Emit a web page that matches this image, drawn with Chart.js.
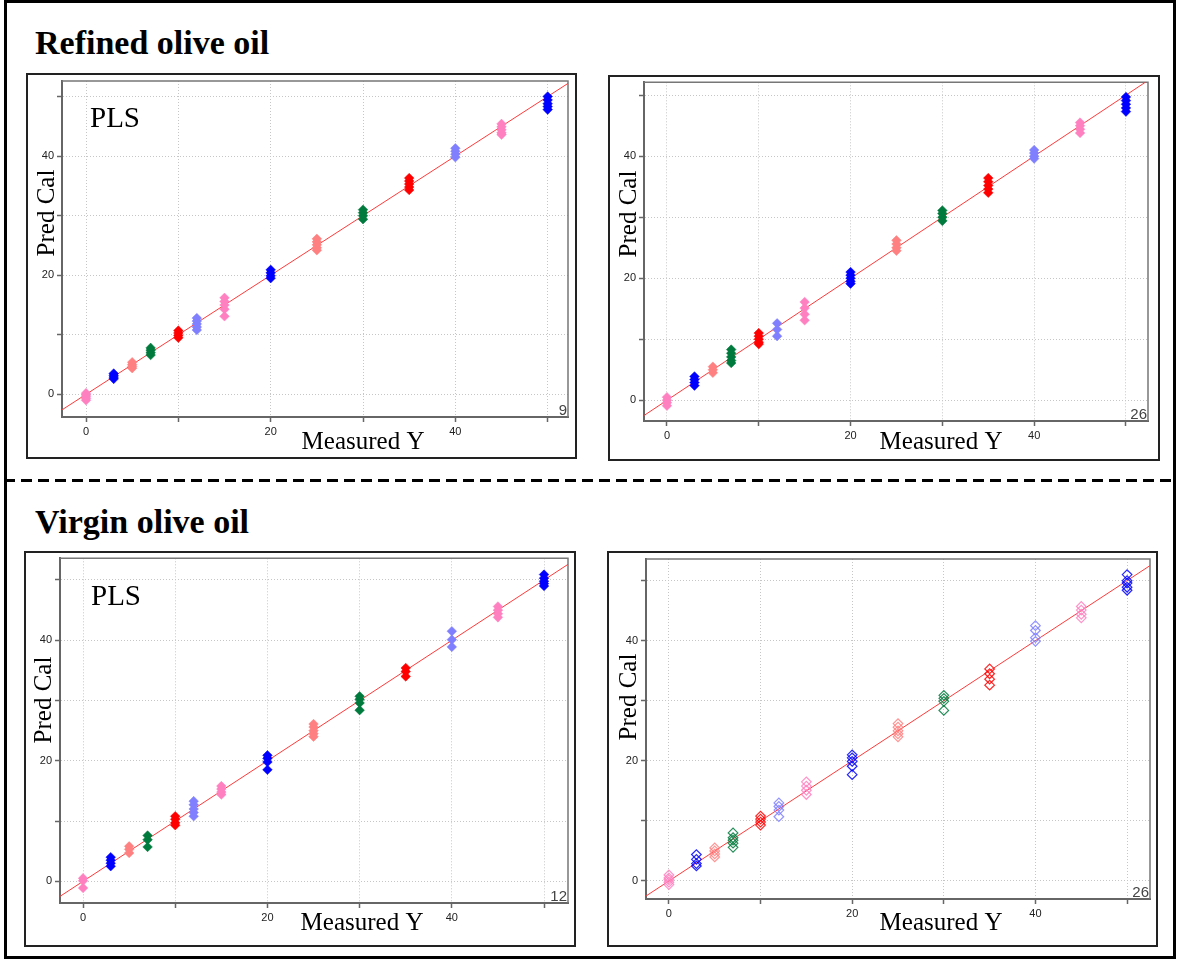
<!DOCTYPE html>
<html lang="en">
<head>
<meta charset="UTF-8">
<title>Pred Cal vs Measured Y</title>
<script src="https://cdn.jsdelivr.net/npm/chart.js"></script>
<style>
  body { margin: 0; background: #fff; font-family: "Liberation Serif", "Times New Roman", serif; }
  #frame { position: absolute; left: 4px; top: 0; width: 1166px; height: 953px; border: 3px solid #000; }
  .sect { position: absolute; left: 35px; font-weight: bold; font-size: 34px; line-height: 34px; color: #000; white-space: nowrap; }
  .dash { position: absolute; left: 4px; width: 1172px; top: 479px; height: 3px;
          background: repeating-linear-gradient(to right, #000 0 11px, transparent 11px 17px); }
  .panel { position: absolute; box-sizing: border-box; border: 2px solid #222; background: #fff; }
  .panel canvas { position: absolute; left: 0; top: 0; }
</style>
</head>
<body>
<div id="frame"></div>
<div class="sect" style="top:26px">Refined olive oil</div>
<div class="dash"></div>
<div class="sect" style="top:505px">Virgin olive oil</div>

<div class="panel" id="p1"><canvas id="c1"></canvas></div>
<div class="panel" id="p2"><canvas id="c2"></canvas></div>
<div class="panel" id="p3"><canvas id="c3"></canvas></div>
<div class="panel" id="p4"><canvas id="c4"></canvas></div>

<script>
  // measured levels (x) and predicted values (y)
  const levels = [0, 3, 5, 7, 10, 12, 15, 20, 25, 30, 35, 40, 45, 50];
  const gridValues = [0, 10, 20, 30, 40, 50];
  const tickLabels = [0, 20, 40];
  const refLine = [-10, 60];

  const refinedPls = [
    [0.2, -0.1, -0.4, -0.7, -1.0],
    [3.5, 3.2, 2.9, 2.6],
    [5.4, 5.0, 4.7, 4.4],
    [7.8, 7.4, 7.0, 6.6],
    [10.7, 10.3, 9.9, 9.5],
    [12.8, 12.3, 11.8, 11.3, 10.8],
    [16.2, 15.6, 15.0, 14.3, 13.1],
    [20.9, 20.4, 19.9, 19.5],
    [26.1, 25.6, 25.1, 24.6, 24.2],
    [31.0, 30.5, 30.0, 29.4],
    [36.3, 35.8, 35.3, 34.8, 34.3],
    [41.3, 40.8, 40.3, 39.8],
    [45.4, 44.9, 44.4, 43.9, 43.6],
    [50.0, 49.4, 48.8, 48.3, 47.8]
  ];
  const refinedAlt = [
    [0.5, 0.0, -0.4, -0.9],
    [3.9, 3.4, 2.9, 2.4],
    [5.5, 5.0, 4.5],
    [8.3, 7.7, 7.1, 6.5, 6.1],
    [11.0, 10.5, 10.0, 9.5, 9.2],
    [12.6, 11.6, 10.5],
    [16.1, 15.1, 14.1, 13.1],
    [21.0, 20.5, 20.0, 19.5, 19.1],
    [26.2, 25.6, 25.0, 24.5],
    [31.1, 30.6, 30.0, 29.4],
    [36.4, 35.8, 35.2, 34.6, 34.0],
    [41.0, 40.5, 40.0, 39.6],
    [45.5, 45.0, 44.4, 43.8],
    [49.7, 49.1, 48.5, 47.9, 47.3]
  ];
  const virginPls = [
    [0.5, 0.1, -1.1],
    [4.0, 3.5, 3.0, 2.5],
    [5.8, 5.3, 4.7],
    [7.6, 6.9, 5.7],
    [10.8, 10.3, 9.7, 9.3],
    [13.3, 12.7, 12.0, 11.4, 10.8],
    [15.8, 15.3, 14.8, 14.4],
    [20.9, 20.4, 19.8, 18.5],
    [26.1, 25.6, 25.0, 24.5, 24.0],
    [30.7, 30.2, 29.6, 28.4],
    [35.4, 34.8, 34.0],
    [41.5, 40.1, 38.9],
    [45.6, 45.0, 44.4, 43.8],
    [50.9, 50.3, 49.8, 49.4, 49.0]
  ];
  const virginAlt = [
    [1.0, 0.5, 0.2, -0.2, -0.6],
    [4.4, 3.6, 2.9, 2.5],
    [5.5, 5.0, 4.5, 4.0],
    [8.0, 7.2, 6.8, 6.3, 5.6],
    [10.8, 10.3, 9.8, 9.3],
    [13.0, 12.4, 11.8, 10.7],
    [16.5, 15.8, 15.1, 14.4],
    [21.0, 20.5, 19.9, 19.1, 17.7],
    [26.2, 25.6, 25.0, 24.5, 24.0],
    [30.9, 30.4, 29.9, 28.4],
    [35.3, 34.5, 33.6, 32.6],
    [42.5, 41.7, 40.5, 39.9],
    [45.7, 45.1, 44.4, 43.8],
    [51.0, 50.0, 49.6, 48.9, 48.4]
  ];

  const levelColors = ['#ff80c0', '#0000ff', '#ff8080', '#007a3d', '#ff0000', '#8080ff', '#ff80c0',
                       '#0000ff', '#ff8080', '#007a3d', '#ff0000', '#8080ff', '#ff80c0', '#0000ff'];

  const YW = 30, XH = 34, BORDER = 2;

  const panels = [
    { id: 1, data: refinedPls, filled: true, pls: [90, 127], corner: '9',
      box: [26, 73, 577, 459], plot: [62, 81, 568, 417], x: [-2.6, 52.2], y: [-3.8, 52.6],
      yTitle: [54, 213], xTitle: [363, 449] },
    { id: 2, data: refinedAlt, filled: true, pls: null, corner: '26',
      box: [608, 75, 1160, 461], plot: [644, 81, 1148, 421], x: [-2.5, 52.4], y: [-3.4, 52.1],
      yTitle: [636, 214], xTitle: [941, 449] },
    { id: 3, data: virginPls, filled: true, pls: [91, 605], corner: '12',
      box: [24, 551, 576, 947], plot: [60, 558, 568, 903], x: [-2.5, 52.6], y: [-3.6, 53.6],
      yTitle: [51, 700], xTitle: [362, 930] },
    { id: 4, data: virginAlt, filled: false, pls: null, corner: '26',
      box: [607, 551, 1158, 947], plot: [646, 554, 1154, 899], x: [-2.5, 52.5], y: [-3.0, 53.6],
      yTitle: [636, 697], xTitle: [941, 930] }
  ];

  function alpha(hex, a) {
    const n = parseInt(hex.slice(1), 16);
    return 'rgba(' + (n >> 16) + ',' + ((n >> 8) & 255) + ',' + (n & 255) + ',' + a + ')';
  }

  const panelDecor = {
    id: 'panelDecor',
    beforeDatasetsDraw(chart, args, o) {
      const { ctx, chartArea: a } = chart;
      ctx.save();
      ctx.strokeStyle = '#777';
      ctx.lineWidth = 1.5;
      ctx.beginPath();
      ctx.moveTo(a.left, a.top);
      ctx.lineTo(a.right, a.top);
      ctx.lineTo(a.right, a.bottom);
      ctx.stroke();
      ctx.restore();
    },
    afterDraw(chart, args, o) {
      const { ctx, chartArea: a } = chart;
      const ox = o.box[0] + BORDER, oy = o.box[1] + BORDER;
      ctx.save();
      ctx.fillStyle = '#000';
      ctx.font = '25px "Liberation Serif"';
      ctx.textAlign = 'center';
      ctx.textBaseline = 'alphabetic';
      ctx.fillText('Measured Y', o.xTitle[0] - ox, o.xTitle[1] - oy);
      ctx.save();
      ctx.translate(o.yTitle[0] - ox, o.yTitle[1] - oy);
      ctx.rotate(-Math.PI / 2);
      ctx.fillText('Pred Cal', 0, 0);
      ctx.restore();
      if (o.pls) {
        ctx.font = '29px "Liberation Serif"';
        ctx.textAlign = 'left';
        ctx.fillText('PLS', o.pls[0] - ox, o.pls[1] - oy);
      }
      ctx.font = '15px "Liberation Sans"';
      ctx.fillStyle = '#444';
      ctx.textAlign = 'right';
      ctx.fillText(o.corner, a.right - 1, a.bottom - 2);
      ctx.restore();
    }
  };

  panels.forEach(p => {
    const div = document.getElementById('p' + p.id);
    const w = p.box[2] - p.box[0], h = p.box[3] - p.box[1];
    Object.assign(div.style, { left: p.box[0] + 'px', top: p.box[1] + 'px', width: w + 'px', height: h + 'px' });
    const cw = w - 2 * BORDER, ch = h - 2 * BORDER;
    const canvas = document.getElementById('c' + p.id);
    canvas.width = cw;
    canvas.height = ch;
    const ox = p.box[0] + BORDER, oy = p.box[1] + BORDER;

    const datasets = levels.map((lv, i) => ({
      type: 'scatter',
      data: p.data[i].map(v => ({ x: lv, y: v })),
      pointStyle: 'rectRot',
      pointRadius: 4.8,
      backgroundColor: p.filled ? levelColors[i] : 'rgba(0,0,0,0)',
      borderColor: p.filled ? levelColors[i] : alpha(levelColors[i], 0.85),
      borderWidth: p.filled ? 0.5 : 1.2
    }));
    datasets.push({
      type: 'line',
      data: refLine.map(v => ({ x: v, y: v })),
      borderColor: '#ff3a3a',
      borderWidth: 1,
      pointRadius: 0
    });

    const axisCommon = {
      type: 'linear',
      afterBuildTicks: s => { s.ticks = gridValues.map(v => ({ value: v })); },
      ticks: {
        callback: v => tickLabels.includes(v) ? String(v) : '',
        font: { family: 'Liberation Sans', size: 11 },
        color: '#222',
        padding: 3,
        maxRotation: 0,
        autoSkip: false
      },
      grid: { color: '#c6c6c6', lineWidth: 1, tickLength: 5, tickColor: '#666', tickWidth: 1.5 },
      border: { color: '#666', width: 2, dash: [1, 2] }
    };

    new Chart(canvas, {
      data: { datasets },
      options: {
        responsive: false,
        animation: false,
        events: [],
        layout: {
          padding: {
            left: p.plot[0] - ox - YW,
            top: p.plot[1] - oy,
            right: ox + cw - p.plot[2],
            bottom: oy + ch - p.plot[3] - XH
          }
        },
        scales: {
          x: Object.assign({}, axisCommon, { min: p.x[0], max: p.x[1],
            afterFit: s => { s.height = XH; s.paddingLeft = 0; s.paddingRight = 0; s.paddingTop = 0; s.paddingBottom = 0; } }),
          y: Object.assign({}, axisCommon, { min: p.y[0], max: p.y[1],
            afterFit: s => { s.width = YW; s.paddingLeft = 0; s.paddingRight = 0; s.paddingTop = 0; s.paddingBottom = 0; } })
        },
        plugins: {
          legend: { display: false },
          tooltip: { enabled: false },
          panelDecor: p
        }
      },
      plugins: [panelDecor]
    });
  });
</script>
</body>
</html>
